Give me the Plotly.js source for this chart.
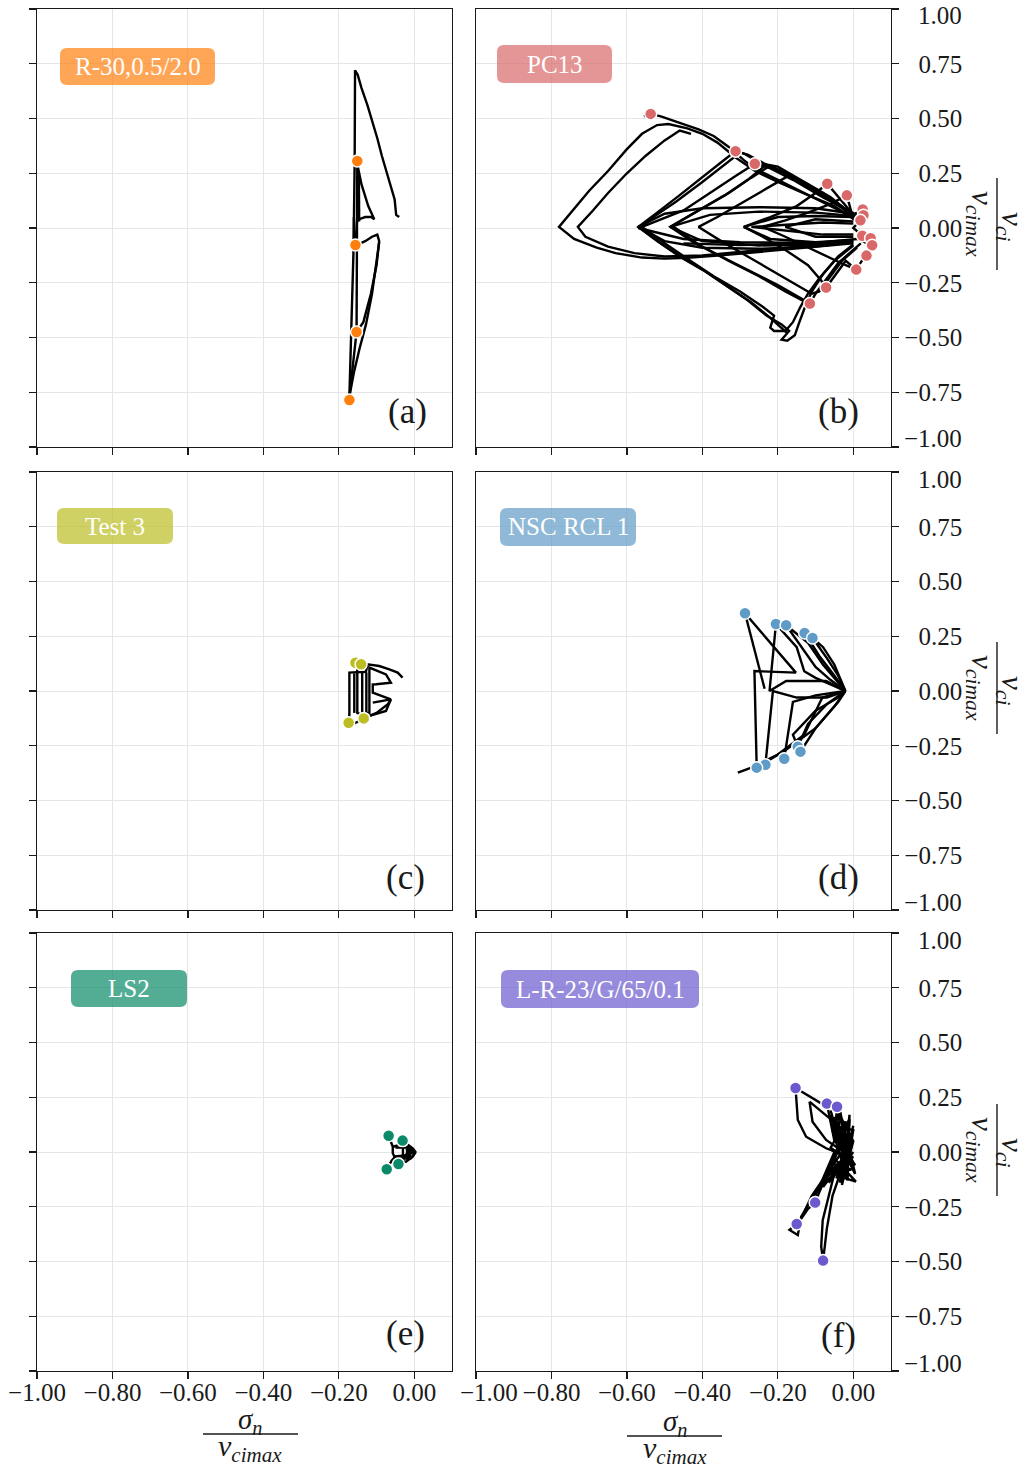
<!DOCTYPE html>
<html><head><meta charset="utf-8">
<script src="https://cdn.plot.ly/plotly-3.0.1.min.js"></script>
<style>body{margin:0;background:#fff}</style>
</head><body><div id="chart" style="width:1035px;height:1470px"></div>
<script>
// ---------------- DATA ----------------
const xTickVals = [-1, -0.8, -0.6, -0.4, -0.2, 0];
const yTickVals = [-1, -0.75, -0.5, -0.25, 0, 0.25, 0.5, 0.75, 1];
const panelNames = ['R-30,0.5/2.0', 'PC13', 'Test 3', 'NSC RCL 1', 'LS2', 'L-R-23/G/65/0.1'];
const panelTags = ['(a)', '(b)', '(c)', '(d)', '(e)', '(f)'];
const panelColors = ['#ff7f0e', '#d96868', '#bcbd22', '#5f9bc6', '#0a8a68', '#6a5acd'];

// (a) R-30,0.5/2.0
const aSegs = [
 [[-0.172,-0.77],[-0.166,-0.45],[-0.161,-0.10],[-0.158,0.30],[-0.157,0.72],[-0.150,0.70],[-0.140,0.64],[-0.124,0.56],[-0.110,0.48],[-0.098,0.41],[-0.086,0.33],[-0.074,0.255],[-0.062,0.19],[-0.052,0.13],[-0.048,0.06],[-0.040,0.05]],
 [[-0.152,0.30],[-0.140,0.20],[-0.122,0.10],[-0.106,0.04],[-0.114,0.05],[-0.130,0.05],[-0.146,0.04],[-0.152,0.03],[-0.156,-0.08]],
 [[-0.156,-0.08],[-0.130,-0.06],[-0.112,-0.04],[-0.098,-0.03],[-0.093,-0.06],[-0.100,-0.17],[-0.115,-0.30],[-0.135,-0.43],[-0.153,-0.475]],
 [[-0.153,-0.475],[-0.162,-0.62],[-0.172,-0.77]],
 [[-0.172,-0.77],[-0.160,-0.66],[-0.145,-0.55],[-0.128,-0.44],[-0.112,-0.30],[-0.100,-0.15],[-0.093,-0.065]],
 [[-0.151,0.306],[-0.152,0.0],[-0.154,-0.30],[-0.153,-0.475]],
 [[-0.147,0.25],[-0.146,0.03]],
 [[-0.160,0.05],[-0.160,-0.05]]
];
const aMarks = [[-0.151,0.306],[-0.156,-0.078],[-0.153,-0.475],[-0.172,-0.785]];

// (b) PC13
const bSegs = [
 [[0.01,0.03],[-0.05,0.10],[-0.12,0.15],[-0.20,0.21],[-0.26,0.26],[-0.31,0.32],[-0.36,0.39],[-0.40,0.43],[-0.44,0.455],[-0.49,0.475],[-0.52,0.47],[-0.56,0.43],[-0.60,0.36],[-0.65,0.26],[-0.70,0.17],[-0.74,0.09],[-0.78,0.005],[-0.74,-0.05],[-0.68,-0.09],[-0.63,-0.115],[-0.56,-0.135],[-0.50,-0.14],[-0.44,-0.136],[-0.35,-0.125],[-0.25,-0.11],[-0.15,-0.095],[-0.06,-0.08],[0.0,-0.07]],
 [[-0.555,0.51],[-0.537,0.521],[-0.51,0.51],[-0.46,0.48],[-0.41,0.45],[-0.37,0.42],[-0.33,0.37],[-0.29,0.31],[-0.26,0.27],[-0.20,0.22],[-0.12,0.15],[-0.05,0.09],[0.01,0.04]],
 [[-0.43,0.43],[-0.46,0.445],[-0.50,0.40],[-0.55,0.33],[-0.60,0.25],[-0.65,0.16],[-0.69,0.08],[-0.73,0.005],[-0.71,-0.04],[-0.65,-0.085],[-0.58,-0.115],[-0.50,-0.13],[-0.40,-0.125],[-0.30,-0.11],[-0.20,-0.095],[-0.10,-0.08],[-0.02,-0.065]],
 [[0.02,0.05],[-0.08,0.14],[-0.16,0.22],[-0.24,0.29],[-0.29,0.34],[-0.312,0.351],[-0.35,0.30],[-0.40,0.23],[-0.46,0.15],[-0.52,0.07],[-0.57,0.005],[-0.52,-0.06],[-0.46,-0.13],[-0.40,-0.19],[-0.34,-0.26],[-0.28,-0.33],[-0.23,-0.40],[-0.19,-0.44],[-0.17,-0.47],[-0.19,-0.51],[-0.175,-0.515],[-0.155,-0.49],[-0.145,-0.44],[-0.13,-0.37],[-0.11,-0.29],[-0.08,-0.21],[-0.04,-0.13],[0.0,-0.075]],
 [[0.015,0.045],[-0.07,0.135],[-0.15,0.215],[-0.22,0.28],[-0.28,0.335],[-0.30,0.345],[-0.34,0.29],[-0.40,0.21],[-0.47,0.12],[-0.53,0.05],[-0.565,0.0],[-0.51,-0.07],[-0.45,-0.14],[-0.39,-0.20],[-0.33,-0.27],[-0.27,-0.34],[-0.22,-0.41],[-0.19,-0.455],[-0.175,-0.48]],
 [[0.02,0.04],[-0.06,0.13],[-0.14,0.21],[-0.21,0.27],[-0.261,0.293],[-0.31,0.24],[-0.38,0.16],[-0.45,0.08],[-0.56,0.005],[-0.50,-0.07],[-0.44,-0.14],[-0.37,-0.22],[-0.30,-0.29],[-0.24,-0.36],[-0.21,-0.40],[-0.22,-0.455],[-0.21,-0.47],[-0.18,-0.47],[-0.16,-0.43],[-0.14,-0.36],[-0.12,-0.30],[-0.09,-0.23],[-0.05,-0.15],[0.0,-0.08]],
 [[0.02,0.03],[-0.06,0.14],[-0.15,0.23],[-0.20,0.28],[-0.23,0.29],[-0.28,0.22],[-0.34,0.15],[-0.41,0.08],[-0.485,0.005],[-0.42,-0.07],[-0.35,-0.13],[-0.28,-0.19],[-0.20,-0.26],[-0.14,-0.32],[-0.115,-0.345],[-0.10,-0.30],[-0.07,-0.23],[-0.04,-0.16],[0.0,-0.10],[0.02,-0.07]],
 [[0.02,0.035],[-0.08,0.16],[-0.16,0.235],[-0.22,0.285],[-0.27,0.23],[-0.33,0.16],[-0.40,0.09],[-0.48,0.01],[-0.41,-0.075],[-0.33,-0.15],[-0.25,-0.22],[-0.18,-0.29],[-0.13,-0.335]],
 [[0.01,0.04],[-0.06,0.13],[-0.12,0.20],[-0.17,0.24],[-0.22,0.19],[-0.30,0.11],[-0.36,0.05],[-0.41,0.005],[-0.35,-0.06],[-0.28,-0.13],[-0.21,-0.20],[-0.15,-0.26],[-0.11,-0.30],[-0.09,-0.29],[-0.06,-0.22],[-0.03,-0.15],[0.01,-0.09]],
 [[0.01,0.04],[-0.04,0.14],[-0.069,0.202],[-0.10,0.16],[-0.15,0.10],[-0.22,0.05],[-0.29,0.005],[-0.24,-0.04],[-0.18,-0.10],[-0.12,-0.17],[-0.085,-0.24],[-0.072,-0.272],[-0.05,-0.22],[-0.02,-0.15],[0.008,-0.19]],
 [[0.0,0.04],[-0.017,0.149],[-0.06,0.11],[-0.12,0.07],[-0.18,0.035],[-0.24,0.005],[-0.18,-0.04],[-0.12,-0.09],[-0.06,-0.14],[-0.02,-0.17],[0.008,-0.19],[0.03,-0.13],[0.035,-0.126]],
 [[0.0,0.065],[-0.10,0.09],[-0.25,0.095],[-0.40,0.09],[-0.50,0.065],[-0.57,0.005],[-0.50,-0.06],[-0.40,-0.09],[-0.25,-0.095],[-0.10,-0.085],[0.0,-0.065]],
 [[0.0,0.055],[-0.10,0.07],[-0.25,0.075],[-0.38,0.06],[-0.485,0.005],[-0.40,-0.06],[-0.25,-0.08],[-0.10,-0.075],[0.0,-0.06]],
 [[0.0,0.05],[-0.10,0.055],[-0.20,0.05],[-0.29,0.005],[-0.22,-0.05],[-0.10,-0.065],[0.0,-0.055]],
 [[0.0,0.03],[-0.10,0.04],[-0.18,0.005],[-0.10,-0.04],[0.0,-0.04]],
 [[0.0,0.02],[-0.08,0.025],[-0.27,0.005],[-0.08,-0.03],[0.0,-0.03]],
 [[-0.57,0.0],[-0.45,-0.05],[-0.30,-0.065],[-0.10,-0.068],[0.01,-0.05]],
 [[-0.45,-0.07],[-0.30,-0.078],[-0.15,-0.072],[0.0,-0.062]],
 [[0.025,0.085],[0.0,0.06],[0.019,0.035],[0.0,0.0],[0.024,-0.035],[0.046,-0.047],[0.02,-0.02],[0.05,-0.079],[0.01,-0.05]]
];
const bMarks = [[-0.537,0.521],[-0.312,0.351],[-0.261,0.293],[-0.069,0.202],[-0.017,0.149],[0.025,0.085],[0.027,0.058],[0.019,0.035],[0.024,-0.035],[0.046,-0.047],[0.050,-0.079],[0.035,-0.126],[0.008,-0.19],[-0.072,-0.272],[-0.115,-0.345]];

// (c) Test 3
const cSegs = [
 [[-0.174,-0.145],[-0.172,-0.106],[-0.172,0.084],[-0.128,0.088],[-0.124,0.122],[-0.093,0.114],[-0.066,0.099],[-0.044,0.084],[-0.031,0.061]],
 [[-0.159,0.08],[-0.159,-0.10]],
 [[-0.151,0.10],[-0.151,-0.10],[-0.138,-0.11],[-0.138,0.09]],
 [[-0.127,0.085],[-0.127,-0.10],[-0.119,-0.10],[-0.119,0.107],[-0.075,0.076],[-0.062,0.038],[-0.101,0.031],[-0.110,0.030],[-0.110,-0.008],[-0.062,-0.038]],
 [[-0.110,-0.053],[-0.062,-0.038],[-0.075,-0.091],[-0.119,-0.114],[-0.163,-0.152]],
 [[-0.134,-0.125],[-0.100,-0.100],[-0.070,-0.060],[-0.062,-0.040]]
];
const cMarks = [[-0.156,0.129],[-0.141,0.122],[-0.174,-0.145],[-0.134,-0.125]];

// (d) NSC RCL 1
const dSegs = [
 [[-0.287,0.355],[-0.235,0.01]],
 [[-0.287,0.355],[-0.152,0.084],[-0.262,0.091],[-0.256,-0.324],[-0.256,-0.35]],
 [[-0.205,0.306],[-0.222,0.0],[-0.178,0.046],[-0.072,0.046],[-0.021,0.0]],
 [[-0.178,0.300],[-0.14,0.21],[-0.10,0.11],[-0.06,0.05],[-0.021,0.0]],
 [[-0.178,0.300],[-0.12,0.22],[-0.08,0.12],[-0.021,0.0]],
 [[-0.129,0.265],[-0.09,0.16],[-0.05,0.07],[-0.021,0.0]],
 [[-0.108,0.242],[-0.07,0.15],[-0.04,0.07],[-0.021,0.0]],
 [[-0.108,0.242],[-0.08,0.20],[-0.05,0.12],[-0.021,0.0]],
 [[-0.205,0.306],[-0.15,0.20],[-0.13,0.09],[-0.10,0.06],[-0.021,0.0]],
 [[-0.306,-0.373],[-0.27,-0.35],[-0.20,-0.29],[-0.13,-0.20],[-0.082,-0.03],[-0.021,0.0]],
 [[-0.233,-0.337],[-0.213,0.0],[-0.15,-0.03],[-0.07,-0.03],[-0.021,0.0]],
 [[-0.183,-0.309],[-0.16,-0.05],[-0.10,-0.02],[-0.021,0.0]],
 [[-0.147,-0.254],[-0.12,-0.15],[-0.07,-0.06],[-0.021,0.0]],
 [[-0.140,-0.277],[-0.10,-0.17],[-0.05,-0.07],[-0.021,0.0]],
 [[-0.256,-0.35],[-0.18,-0.27],[-0.10,-0.17],[-0.04,-0.05],[-0.021,0.0]],
 [[-0.147,-0.254],[-0.16,-0.20],[-0.10,-0.09],[-0.04,-0.03],[-0.021,0.0]]
];
const dMarks = [[-0.287,0.355],[-0.205,0.306],[-0.178,0.300],[-0.129,0.265],[-0.108,0.242],[-0.147,-0.254],[-0.140,-0.277],[-0.183,-0.309],[-0.233,-0.337],[-0.256,-0.350]];

// (e) LS2
const eSegs = [
 [[-0.068,0.074],[-0.057,0.024],[-0.022,0.040],[-0.004,0.017],[0.003,0.001],[-0.004,-0.021],[-0.022,-0.044],[-0.048,-0.037],[-0.057,-0.006],[-0.057,0.024]],
 [[-0.073,-0.079],[-0.060,-0.040],[-0.050,-0.020],[-0.020,-0.015],[0.0,0.0],[-0.020,0.020],[-0.050,0.020]],
 [[-0.042,-0.055],[-0.045,-0.030],[-0.010,-0.030],[0.002,-0.005],[-0.015,0.025],[-0.031,0.052]],
 [[-0.030,0.030],[-0.030,-0.035],[-0.010,0.020],[-0.012,-0.030],[-0.020,0.030],[-0.018,-0.035]]
];
const eMarks = [[-0.068,0.074],[-0.031,0.052],[-0.073,-0.079],[-0.042,-0.055]];

// (f) L-R-23/G/65/0.1
const fSegs = [
 [[-0.153,0.292],[-0.150,0.20],[-0.147,0.146],[-0.125,0.070],[-0.072,0.017],[-0.037,-0.006]],
 [[-0.153,0.292],[-0.085,0.222]],
 [[-0.116,0.23],[-0.108,0.138],[-0.072,0.055],[-0.033,0.009],[-0.06,0.15],[-0.116,0.23]],
 [[-0.070,0.221],[-0.05,0.05],[-0.043,0.207],[-0.03,0.0],[-0.06,0.17],[-0.02,0.05],[-0.035,0.19],[-0.01,-0.05],[-0.05,0.12],[0.0,0.10],[-0.02,-0.10],[-0.03,0.15],[0.005,-0.10],[-0.04,0.05],[-0.01,0.15],[-0.02,-0.12],[0.007,-0.135],[-0.05,-0.03],[-0.015,0.12],[-0.06,-0.05],[-0.005,-0.08],[-0.07,-0.10],[-0.01,0.05],[-0.045,-0.12],[0.0,-0.02]],
 [[-0.06,0.19],[-0.02,-0.06],[-0.05,0.16],[-0.005,-0.02],[-0.04,0.18],[0.0,0.05],[-0.03,-0.15],[-0.01,0.17],[-0.015,-0.13],[-0.055,0.10],[0.005,-0.06],[-0.06,0.02],[-0.02,0.14],[-0.035,-0.14],[0.0,0.12]],
 [[-0.10,-0.20],[-0.05,0.0],[-0.09,-0.18],[-0.03,0.05],[-0.08,-0.16],[-0.02,-0.02],[-0.065,-0.14],[0.0,0.0]],
 [[-0.101,-0.231],[-0.08,-0.14],[-0.05,-0.07],[-0.02,-0.02]],
 [[-0.150,-0.329],[-0.169,-0.356],[-0.147,-0.379],[-0.138,-0.295],[-0.09,-0.158],[-0.046,-0.067],[-0.01,0.0]],
 [[-0.080,-0.496],[-0.085,-0.432],[-0.081,-0.311],[-0.063,-0.189],[-0.05,-0.097],[-0.02,-0.03]],
 [[-0.080,-0.496],[-0.07,-0.35],[-0.055,-0.20],[-0.035,-0.10]],
 [[-0.101,-0.231],[-0.12,-0.26],[-0.140,-0.31],[-0.110,-0.20],[-0.07,-0.10],[-0.03,-0.04]]
];
const fMarks = [[-0.153,0.292],[-0.070,0.221],[-0.043,0.207],[-0.101,-0.231],[-0.150,-0.329],[-0.080,-0.496]];

const allSegs = [aSegs, bSegs, cSegs, dSegs, eSegs, fSegs];
const allMarks = [aMarks, bMarks, cMarks, dMarks, eMarks, fMarks];

// ---------------- LAYOUT HELPERS ----------------
const W = 1035, H = 1470;
const PX = x => x / W;
const PY = y => 1 - y / H;
const colPx = [[37, 452], [476, 891]];
const rowPx = [[9, 447], [472, 910], [933, 1371]];
const FONT = 'Liberation Serif';
const INK = '#1a1a1a';
const TICKSIZE = 25;

function fmtX(v){ const s = Math.abs(v).toFixed(2); return v < 0 ? '\u2212' + s : s; }
function fmtY(v){ const s = Math.abs(v).toFixed(2); return v < 0 ? '\u2212' + s : '<span style="color:#ffffff">\u2212</span>' + s; }

function rrect(x0, y0, x1, y1, r){
  const p = (x, y) => PX(x).toFixed(5) + ',' + PY(y).toFixed(5);
  return 'M' + p(x0 + r, y0) + ' L' + p(x1 - r, y0) + ' Q' + p(x1, y0) + ' ' + p(x1, y0 + r) +
    ' L' + p(x1, y1 - r) + ' Q' + p(x1, y1) + ' ' + p(x1 - r, y1) +
    ' L' + p(x0 + r, y1) + ' Q' + p(x0, y1) + ' ' + p(x0, y1 - r) +
    ' L' + p(x0, y0 + r) + ' Q' + p(x0, y0) + ' ' + p(x0 + r, y0) + ' Z';
}

const boxPx = [[60,48,215,85],[497,45,612,83],[57,508,173,544],[500,508,636,546],[71,970,187,1007],[501,970,699,1008]];
const tagPx = [[407,411],[838,411],[405,877],[838,877],[405,1333],[838,1335]];

const traces = [];
const layout = {
  width: W, height: H, margin: {l:0, r:0, t:0, b:0},
  paper_bgcolor: '#ffffff', plot_bgcolor: '#ffffff', showlegend: false,
  font: {family: FONT, color: INK, size: 24},
  annotations: [], shapes: []
};

function note(x, y, text, size, opts){
  layout.annotations.push(Object.assign({xref:'paper', yref:'paper', x: PX(x), y: PY(y),
    xanchor:'center', yanchor:'middle', text: text, showarrow:false,
    font:{family:FONT, size:size, color:INK}}, opts || {}));
}

for (let i = 0; i < 6; i++){
  const r = Math.floor(i / 2), c = i % 2, n = i + 1;
  const xs = [], ys = [];
  allSegs[i].forEach(seg => { seg.forEach(p => { xs.push(p[0]); ys.push(p[1]); }); xs.push(null); ys.push(null); });
  traces.push({type:'scatter', mode:'lines', x: xs, y: ys, xaxis:'x'+n, yaxis:'y'+n,
    line:{color:'#000000', width:2.4}, connectgaps:false, hoverinfo:'skip'});
  traces.push({type:'scatter', mode:'markers', x: allMarks[i].map(p=>p[0]), y: allMarks[i].map(p=>p[1]),
    xaxis:'x'+n, yaxis:'y'+n, hoverinfo:'skip',
    marker:{size:12, color: panelColors[i], line:{color:'#ffffff', width:1.5}}});

  const common = {showline:true, mirror:true, linecolor:INK, linewidth:1.3, ticks:'outside', ticklen:7,
    tickwidth:1.3, tickcolor:INK, showgrid:true, gridcolor:'#e6e6e6', gridwidth:1, zeroline:false,
    tickfont:{family:FONT, size:TICKSIZE, color:INK}, fixedrange:true, ticklabeloverflow:'allow'};
  const xText = xTickVals.map(v => (c === 1 && v === -1) ? '' : fmtX(v));
  layout['xaxis' + n] = Object.assign({}, common, {
    domain:[PX(colPx[c][0]), PX(colPx[c][1])], range:[-1, 0.1], anchor:'y'+n,
    tickmode:'array', tickvals:xTickVals, ticktext:xText, showticklabels: r === 2, ticklabelstandoff:-8
  });
  const yText = yTickVals.map(v => Math.abs(v) === 1 ? '' : fmtY(v));
  layout['yaxis' + n] = Object.assign({}, common, {
    domain:[PY(rowPx[r][1]), PY(rowPx[r][0])], range:[-1, 1], anchor:'x'+n,
    side: c === 1 ? 'right' : 'left',
    tickmode:'array', tickvals:yTickVals, ticktext:yText, showticklabels: c === 1
  });
  if (c === 1){
    note(902, rowPx[r][0] + 7, fmtY(yTickVals[yTickVals.length-1]), TICKSIZE, {xanchor:'left'});
    note(902, rowPx[r][1] - 8, fmtY(yTickVals[0]), TICKSIZE, {xanchor:'left'});
  }
  if (c === 1 && r === 2){
    note(489, 1392, fmtX(xTickVals[0]), TICKSIZE);
  }

  const b = boxPx[i];
  layout.shapes.push({type:'path', xref:'paper', yref:'paper', path: rrect(b[0], b[1], b[2], b[3], 7),
    fillcolor: panelColors[i], opacity:0.7, line:{width:0}, layer:'above'});
  note((b[0]+b[2])/2, (b[1]+b[3])/2, panelNames[i], 25, {font:{family:FONT, size:25, color:'#ffffff'}});
  note(tagPx[i][0], tagPx[i][1], panelTags[i], 35);
}

// x-axis titles (fraction)
const xTitlePx = [[250,1421,1434,203,298,1448],[675,1423,1436,627,722,1450]];
xTitlePx.forEach(t => {
  note(t[0], t[1], '<i>σ<sub>n</sub></i>', 29);
  layout.shapes.push({type:'line', xref:'paper', yref:'paper', x0:PX(t[3]), x1:PX(t[4]), y0:PY(t[2]), y1:PY(t[2]),
    line:{color:INK, width:1.4}});
  note(t[0], t[5], '<i>v<sub>cimax</sub></i>', 30);
});

// y-axis titles (rotated fraction) for right column
[224, 688, 1150].forEach(yc => {
  note(1010, yc + 2, '<i>v<sub>ci</sub></i>', 31, {textangle:90});
  layout.shapes.push({type:'line', xref:'paper', yref:'paper', x0:PX(997), x1:PX(997), y0:PY(yc-46), y1:PY(yc+46),
    line:{color:INK, width:1.4}});
  note(980, yc, '<i>v<sub>cimax</sub></i>', 31, {textangle:90});
});

Plotly.newPlot('chart', traces, layout, {displayModeBar:false, staticPlot:true});
</script></body></html>
